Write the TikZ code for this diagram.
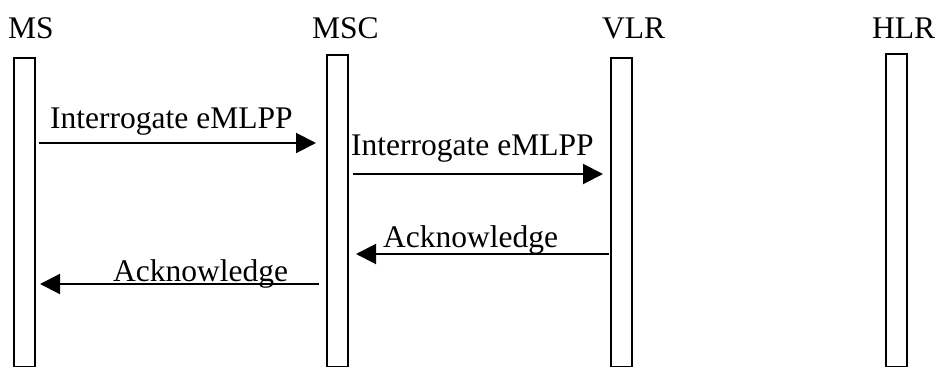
\documentclass[tikz,border=0pt]{standalone}
\usepackage{fontspec}
\setmainfont{Liberation Serif}
\usetikzlibrary{arrows.meta,calc}
\begin{document}
\begin{tikzpicture}[x=1pt,y=-1pt,
  bar/.style={draw, line width=2pt, inner sep=0pt, minimum width=21pt, anchor=north},
  lbl/.style={inner sep=0pt, anchor=base west, font=\fontsize{31.5}{36}\selectfont},
  msg/.style={line width=2pt, -{Triangle[length=20pt,width=20pt]}}]
\useasboundingbox (0,0) rectangle (935,367);
% entity labels
\node[lbl] (tms)  at (8,38)   {MS};
\node[lbl] (tmsc) at (312,38) {MSC};
\node[lbl] (tvlr) at (602,38) {VLR};
\node[lbl] (thlr) at (872,38) {HLR};
% life-line bars
\node[bar, minimum height=309pt] (ms)  at (24,57)  {};
\node[bar, minimum height=312pt] (msc) at (337,54) {};
\node[bar, minimum height=309pt] (vlr) at (621,57) {};
\node[bar, minimum height=313pt] (hlr) at (896,53) {};
% message rows
\coordinate (r1) at (0,143);
\coordinate (r2) at (0,174);
\coordinate (r3) at (0,254);
\coordinate (r4) at (0,284);
\draw[msg] ($(ms.east |- r1)+(3.5,0)$) -- ($(msc.west |- r1)+(-9.5,0)$);
\draw[msg] ($(msc.east |- r2)+(4.5,0)$) -- ($(vlr.west |- r2)+(-6.5,0)$);
\draw[msg] ($(vlr.west |- r3)+(-1,0)$) -- ($(msc.east |- r3)+(7.5,0)$);
\draw[msg] ($(msc.west |- r4)+(-6.5,0)$) -- ($(ms.east |- r4)+(4.5,0)$);
% message labels
\node[lbl] (m1) at (50,128)  {Interrogate eMLPP};
\node[lbl] (m2) at (351,155) {Interrogate eMLPP};
\node[lbl] (m3) at (383,247) {Acknowledge};
\node[lbl] (m4) at (113,281) {Acknowledge};
\end{tikzpicture}
\end{document}
